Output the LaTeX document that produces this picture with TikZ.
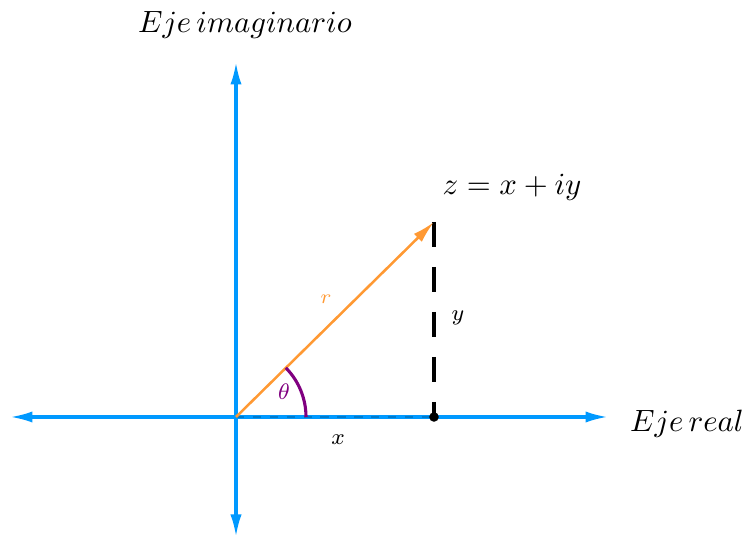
\documentclass[tikz,border=0pt]{standalone}
\usetikzlibrary{arrows.meta}
\definecolor{ejeazul}{RGB}{0,153,255}
\definecolor{vecnaranja}{RGB}{255,153,51}
\definecolor{angmorado}{RGB}{128,0,128}
\begin{document}
\begin{tikzpicture}[x=0.0125cm,y=-0.0125cm,
  eje/.style={ejeazul, line width=1.1pt, {Latex[length=8pt,width=4pt]}-{Latex[length=8pt,width=4pt]}},
  etiq/.style={font=\fontsize{11.4}{14}\selectfont},
  peq/.style={font=\footnotesize}]
\useasboundingbox (0,0) rectangle (744,537);
\coordinate (o) at (236,417);
\coordinate (p) at (434,417);
\coordinate (z) at (434,222);
\coordinate (izq) at (10,417);
\coordinate (der) at (608,417);
\coordinate (arr) at (236,62);
\coordinate (abj) at (236,537);
\draw[eje] (izq) -- (der);
\draw[eje] (abj) -- (arr);
\draw[ejeazul!80!black, line width=0.6pt, dashed] (o) -- (p);
\draw[black, line width=1.1pt, dash pattern=on 8.9pt off 7.1pt] (z) -- (p);
\draw[vecnaranja, line width=0.9pt, -{Latex[length=8pt,width=4pt]}] (o) -- (z);
\draw[angmorado, line width=1.1pt] ([xshift=70*0.0125cm]o) arc[start angle=0, end angle=44.6, radius=70*0.0125cm];
\fill (p) circle[radius=1.7pt];
\node[etiq] (ejeim) at (245,25) {$Eje\,imaginario$};
\node[etiq] (ejere) at (687,424) {$Eje\,real$};
\node[etiq] (zlab) at (512,187) {$z=x+iy$};
\node[font=\scriptsize, text=vecnaranja] (rlab) at (326,299) {$r$};
\node[peq] (ylab) at (458,318) {$y$};
\node[peq] (xlab) at (338,440) {$x$};
\node[peq, text=angmorado] (tlab) at (284,392) {$\theta$};
\end{tikzpicture}
\end{document}
